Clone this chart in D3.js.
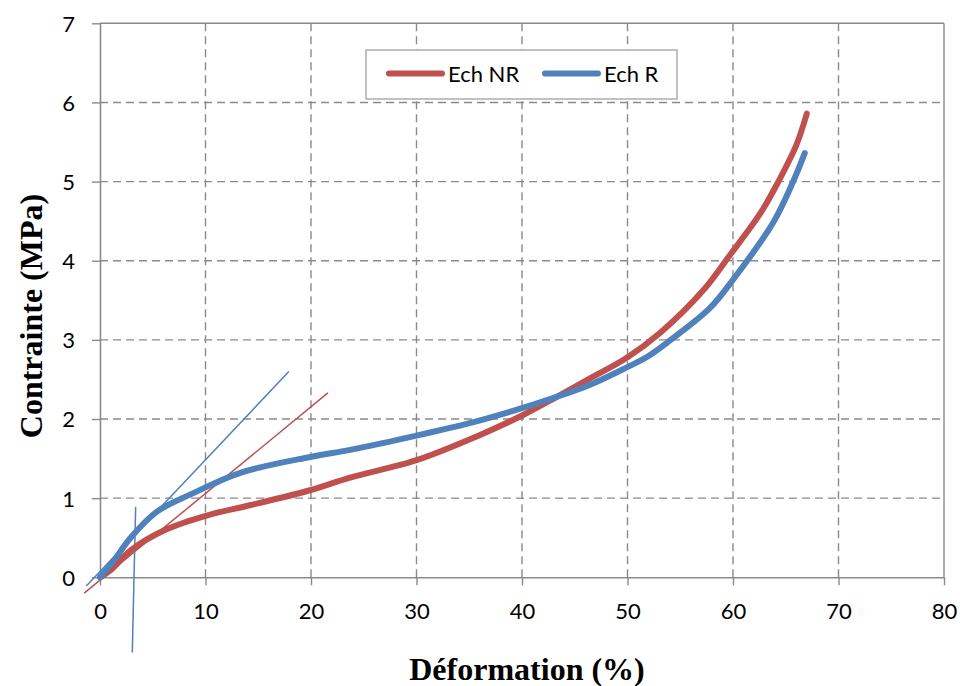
<!DOCTYPE html>
<html>
<head>
<meta charset="utf-8">
<script src="https://cdn.jsdelivr.net/npm/d3@7"></script>
<style>
  html, body { margin: 0; padding: 0; background: #fff; }
  svg { display: block; }
</style>
</head>
<body>
<svg id="chart" width="960" height="686"></svg>
<script>
// Stress–strain curves for two specimens
const seriesNames = ["Ech NR", "Ech R"];
const seriesColors = ["#C0504D", "#4F81BD"];

const nrStrain = [0, 1.0, 2.9, 6.2, 10.1, 14.2, 19.9, 23.7, 30.0, 35.7, 40.1, 43.3, 46.4, 49.9, 53.1, 57.2, 59.7, 62.6, 64.3, 66.0, 67.0];
const nrStress = [0, 0.09, 0.34, 0.60, 0.78, 0.91, 1.10, 1.26, 1.48, 1.78, 2.05, 2.28, 2.51, 2.77, 3.09, 3.63, 4.07, 4.60, 5.0, 5.46, 5.86];

const rStrain = [0, 1.25, 2.9, 5.4, 8.8, 13.3, 19.9, 23.7, 30.0, 35.4, 38.6, 43.3, 46.4, 49.9, 51.8, 54.0, 57.8, 60.0, 63.8, 65.7, 66.8];
const rStress = [0, 0.2, 0.5, 0.83, 1.06, 1.32, 1.52, 1.61, 1.79, 1.96, 2.08, 2.28, 2.43, 2.65, 2.78, 2.99, 3.40, 3.76, 4.48, 5.0, 5.36];

// Construction lines (initial slopes and a marker line)
const tangentNRx = [-1.5, 21.6];
const tangentNRy = [-0.2, 2.33];
const tangentRx = [-1.3, 17.9];
const tangentRy = [-0.11, 2.60];
const markerRx = [3.06, 3.38];
const markerRy = [-0.95, 0.89];

const xTicks = [0, 10, 20, 30, 40, 50, 60, 70, 80];
const yTicks = [0, 1, 2, 3, 4, 5, 6, 7];

const plot = { left: 100, right: 944, top: 23.3, bottom: 577.3 };

const svg = d3.select("#chart");
const x = d3.scaleLinear().domain([0, 80]).range([plot.left, plot.right]);
const y = d3.scaleLinear().domain([0, 7]).range([plot.bottom, plot.top]);

const gridColor = "#8a8a8a";
const tickFont = "Lato, 'Open Sans', sans-serif";
const titleFont = "'Liberation Serif', 'Times New Roman', serif";

// Dashed gridlines
const grid = svg.append("g");
grid.selectAll("line.h").data(yTicks.filter(d => d > 0 && d < 7)).join("line")
  .attr("x1", plot.left).attr("x2", plot.right)
  .attr("y1", d => y(d)).attr("y2", d => y(d))
  .attr("stroke", gridColor).attr("stroke-width", 1.4).attr("stroke-dasharray", "8,5");
grid.selectAll("line.v").data(xTicks.filter(d => d > 0 && d < 80)).join("line")
  .attr("y1", plot.top).attr("y2", plot.bottom)
  .attr("x1", d => x(d)).attr("x2", d => x(d))
  .attr("stroke", gridColor).attr("stroke-width", 1.4).attr("stroke-dasharray", "8,5");

// Plot frame (top and right borders)
svg.append("line").attr("x1", plot.left).attr("x2", plot.right).attr("y1", plot.top).attr("y2", plot.top)
  .attr("stroke", gridColor).attr("stroke-width", 1.4);
svg.append("line").attr("x1", plot.right).attr("x2", plot.right).attr("y1", plot.top).attr("y2", plot.bottom)
  .attr("stroke", gridColor).attr("stroke-width", 1.4);

// Axes
const xAxis = svg.append("g").attr("transform", `translate(0,${plot.bottom})`)
  .call(d3.axisBottom(x).tickValues(xTicks).tickFormat(d3.format("d"))
    .tickSizeInner(8).tickSizeOuter(0).tickPadding(18));
const yAxis = svg.append("g").attr("transform", `translate(${plot.left},0)`)
  .call(d3.axisLeft(y).tickValues(yTicks).tickFormat(d3.format("d"))
    .tickSizeInner(8).tickSizeOuter(0).tickPadding(17));
[xAxis, yAxis].forEach(g => {
  g.select(".domain").attr("stroke", gridColor).attr("stroke-width", 1.6);
  g.selectAll(".tick line").attr("stroke", gridColor).attr("stroke-width", 1.4);
  g.selectAll(".tick text").attr("fill", "#000").style("font-family", tickFont).style("font-size", "22px");
});
yAxis.selectAll(".tick text").attr("dy", "0.36em");

// Construction lines
const thin = [
  { xs: tangentNRx, ys: tangentNRy, c: seriesColors[0] },
  { xs: tangentRx, ys: tangentRy, c: seriesColors[1] },
  { xs: markerRx, ys: markerRy, c: seriesColors[1] }
];
thin.forEach(t => {
  svg.append("line")
    .attr("x1", x(t.xs[0])).attr("y1", y(t.ys[0]))
    .attr("x2", x(t.xs[1])).attr("y2", y(t.ys[1]))
    .attr("stroke", t.c).attr("stroke-width", 1.5);
});

// Curves
const line = d3.line().x(d => x(d[0])).y(d => y(d[1])).curve(d3.curveCatmullRom.alpha(0.5));
const series = [
  d3.zip(nrStrain, nrStress),
  d3.zip(rStrain, rStress)
];
series.forEach((pts, i) => {
  svg.append("path").datum(pts)
    .attr("d", line)
    .attr("fill", "none")
    .attr("stroke", seriesColors[i])
    .attr("stroke-width", 6)
    .attr("stroke-linecap", "round")
    .attr("stroke-linejoin", "round");
});

// Legend
const legend = svg.append("g");
legend.append("rect").attr("x", 366).attr("y", 50).attr("width", 311).attr("height", 49)
  .attr("fill", "#fff").attr("stroke", "#a0a0a0").attr("stroke-width", 1.3);
const legendPos = [{ lx: 389, tx: 448 }, { lx: 545, tx: 604 }];
seriesNames.forEach((name, i) => {
  legend.append("line").attr("x1", legendPos[i].lx).attr("x2", legendPos[i].lx + 53)
    .attr("y1", 73.5).attr("y2", 73.5)
    .attr("stroke", seriesColors[i]).attr("stroke-width", 6).attr("stroke-linecap", "round");
  legend.append("text").attr("x", legendPos[i].tx).attr("y", 82)
    .style("font-family", tickFont).style("font-size", "22px").text(name);
});

// Axis titles
svg.append("text").attr("x", 527).attr("y", 680).attr("text-anchor", "middle")
  .style("font-family", titleFont).style("font-weight", "bold")
  .style("font-size", "32px").text("Déformation (%)");
svg.append("text").attr("transform", "translate(42,316) rotate(-90)").attr("text-anchor", "middle")
  .style("font-family", titleFont).style("font-weight", "bold")
  .style("font-size", "32px").text("Contrainte (MPa)");
</script>
</body>
</html>
